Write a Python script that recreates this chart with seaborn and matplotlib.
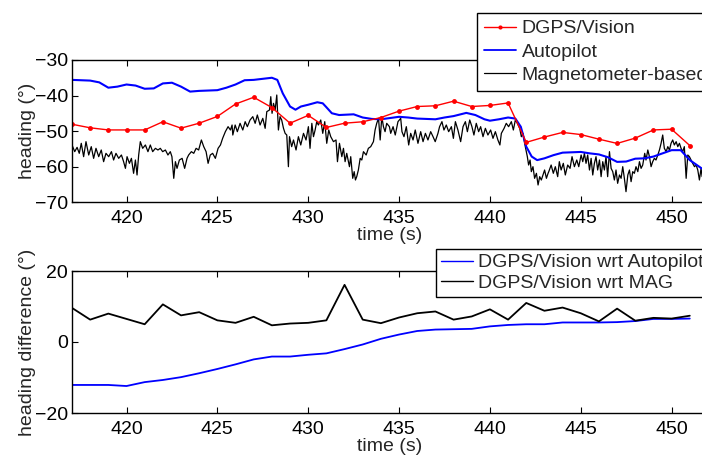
import numpy as np
import pandas as pd
import seaborn as sns
import matplotlib
matplotlib.use("Agg")
import matplotlib.pyplot as plt
from matplotlib.lines import Line2D

# ---------------- data ----------------
dgps_t = list(range(417, 452))
dgps_heading = [-48.1, -49.1, -49.7, -49.7, -49.7, -47.4, -49.2, -47.8, -45.9, -42.4,
                -40.5, -43.4, -47.8, -45.6, -49.0, -47.8, -47.4, -46.2, -44.4, -43.1,
                -42.9, -41.6, -43.1, -42.8, -42.1, -53.2, -51.7, -50.4, -51.0, -52.3,
                -53.5, -52.0, -49.7, -49.5, -54.1]

auto_t = [417, 418, 418.5, 419, 419.5, 420, 420.5, 421, 421.5, 422, 422.5, 423, 423.5, 424,
          425, 425.5, 426, 426.5, 427, 427.5, 428, 428.3, 428.6, 429, 429.3, 429.6, 430,
          430.5, 430.8, 431, 431.3, 431.7, 432.5, 433, 433.5, 434, 435, 435.5, 436, 437,
          437.5, 438, 438.7, 439.2, 439.7, 440, 440.5, 441, 441.4, 441.7, 442, 442.3,
          442.6, 443, 443.5, 444, 445, 445.5, 446, 446.5, 447, 447.5, 448, 448.5, 449,
          449.5, 450, 450.5, 451, 451.7]
auto_heading = [-35.6, -35.8, -36.3, -37.8, -37.5, -36.9, -37.2, -38.1, -38.0, -36.6, -36.4,
                -37.5, -38.9, -38.7, -38.5, -37.8, -36.9, -35.7, -35.6, -35.3, -35.0, -35.6,
                -39.4, -43.1, -44.0, -43.1, -42.6, -41.9, -42.2, -43.3, -45.0, -45.5, -45.3,
                -46.2, -46.6, -46.7, -46.0, -46.2, -46.5, -46.7, -46.2, -45.8, -44.9, -45.5,
                -46.7, -47.1, -46.7, -46.2, -46.5, -48.8, -54.4, -57.2, -58.2, -57.7, -56.8,
                -56.1, -55.9, -56.3, -56.6, -57.4, -58.7, -58.6, -57.8, -57.7, -57.2, -56.3,
                -55.4, -55.4, -58.2, -60.7]

mag_t_a = [417.00, 417.15, 417.28, 417.40, 417.51, 417.64, 417.77, 417.92, 418.06, 418.19,
           418.32, 418.47, 418.61, 418.74, 418.87, 419.02, 419.17, 419.29, 419.42, 419.57,
           419.72, 419.84, 419.94, 420.03, 420.16, 420.27, 420.39, 420.49, 420.58, 420.67,
           420.76, 420.89, 421.04, 421.18, 421.31, 421.44, 421.59, 421.73, 421.86, 421.99,
           422.14, 422.28, 422.41, 422.50, 422.60, 422.69, 422.78, 422.91, 423.06, 423.20,
           423.33, 423.42, 423.57, 423.70, 423.83, 423.97, 424.12, 424.25, 424.38, 424.49,
           424.61, 424.74, 424.89, 425.04, 425.17, 425.29, 425.44, 425.59, 425.72, 425.81]
mag_h_a = [-53.94, -55.82, -54.60, -56.29, -53.47, -57.23, -53.00, -56.76, -54.41, -57.70,
           -54.88, -57.23, -55.35, -58.64, -56.29, -57.23, -55.82, -58.17, -56.29, -57.70,
           -56.76, -58.64, -60.52, -57.23, -59.11, -57.70, -61.92, -58.17, -62.39, -56.76,
           -53.00, -54.88, -53.94, -55.82, -53.94, -55.82, -54.88, -55.35, -54.88, -55.82,
           -55.35, -56.76, -55.82, -57.23, -63.33, -58.64, -60.52, -58.17, -57.70, -60.52,
           -57.70, -56.76, -55.82, -56.29, -54.88, -55.35, -52.53, -54.41, -55.82, -59.11,
           -56.76, -56.29, -57.70, -54.88, -53.94, -52.07, -50.19, -48.78, -49.72, -48.31]

mag_t_b = [425.85, 425.98, 426.10, 426.25, 426.40, 426.53, 426.65, 426.80, 426.95, 427.08,
           427.20, 427.35, 427.50, 427.63, 427.72, 427.87, 427.94, 428.01, 428.09, 428.18,
           428.27, 428.36, 428.45, 428.54, 428.64, 428.73, 428.82, 428.91, 428.97, 429.09,
           429.19, 429.33, 429.46, 429.59, 429.74, 429.88, 430.01, 430.10, 430.20, 430.29,
           430.38, 430.47, 430.56, 430.69, 430.80, 430.91, 431.02, 431.13, 431.24, 431.39,
           431.53, 431.61, 431.72, 431.85, 431.94, 432.03, 432.12, 432.27, 432.34, 432.45,
           432.53, 432.60, 432.67, 432.76, 432.86, 432.95, 433.04, 433.19, 433.31, 433.44,
           433.59, 433.68, 433.77, 433.87, 433.96, 434.05, 434.14, 434.23, 434.32, 434.47]
mag_h_b = [-51.13, -48.31, -50.19, -47.84, -49.72, -47.37, -48.78, -46.90, -45.96, -47.84,
           -45.49, -48.31, -46.43, -49.25, -44.55, -44.08, -40.33, -45.02, -42.21, -44.08,
           -39.86, -49.72, -45.96, -46.90, -49.25, -50.66, -51.13, -60.05, -51.60, -54.41,
           -52.53, -55.35, -51.60, -53.94, -50.66, -52.53, -48.78, -54.88, -47.84, -51.60,
           -49.72, -47.37, -48.31, -46.90, -50.66, -47.37, -53.47, -49.72, -51.60, -53.00,
           -52.53, -58.64, -53.47, -57.23, -54.88, -58.64, -56.29, -60.05, -57.23, -63.33,
           -61.45, -63.80, -62.86, -60.99, -57.70, -58.17, -55.82, -56.76, -54.88, -54.41,
           -53.00, -49.72, -47.84, -46.43, -52.53, -45.96, -48.78, -50.19, -47.84, -48.78]

mag_t_c = [434.54, 434.67, 434.79, 434.94, 435.09, 435.16, 435.27, 435.40, 435.53, 435.64,
           435.77, 435.89, 436.04, 436.19, 436.32, 436.45, 436.59, 436.74, 436.87, 436.99,
           437.14, 437.23, 437.36, 437.47, 437.60, 437.73, 437.88, 437.99, 438.10, 438.24,
           438.39, 438.52, 438.65, 438.76, 438.89, 439.01, 439.12, 439.25, 439.38, 439.49,
           439.62, 439.75, 439.89, 440.04, 440.17, 440.30, 440.44, 440.55, 440.63, 440.78,
           440.90, 441.03, 441.18, 441.29, 441.40, 441.51, 441.64, 441.73, 441.82, 441.91,
           442.00, 442.06, 442.13, 442.21, 442.28, 442.37, 442.46, 442.56, 442.65, 442.74,
           442.83, 442.92, 443.01, 443.11, 443.20]
mag_h_c = [-50.66, -48.78, -51.13, -47.37, -46.43, -50.19, -51.60, -48.78, -53.94, -50.66,
           -52.53, -49.72, -53.47, -50.19, -53.00, -50.66, -52.53, -50.19, -51.60, -53.00,
           -50.66, -48.78, -47.37, -49.72, -48.31, -50.19, -48.78, -52.07, -47.37, -49.72,
           -53.00, -48.78, -47.37, -50.19, -46.90, -48.78, -51.13, -47.84, -50.19, -48.78,
           -51.60, -49.25, -51.13, -49.72, -52.07, -50.19, -52.53, -53.94, -50.66, -49.25,
           -47.84, -48.78, -47.37, -49.72, -46.90, -47.84, -49.25, -51.60, -50.66, -53.47,
           -55.82, -57.23, -59.58, -58.17, -61.45, -60.05, -63.33, -61.92, -65.21, -62.86,
           -63.80, -62.39, -60.99, -63.33, -61.92]

mag_t_d = [443.24, 443.37, 443.49, 443.60, 443.73, 443.82, 443.92, 444.04, 444.15, 444.28,
           444.41, 444.52, 444.65, 444.78, 444.89, 445.02, 445.11, 445.20, 445.29, 445.38,
           445.48, 445.57, 445.66, 445.75, 445.84, 445.93, 446.03, 446.12, 446.21, 446.30,
           446.39, 446.48, 446.58, 446.67, 446.76, 446.85, 446.94, 447.03, 447.13, 447.22,
           447.31, 447.40, 447.49, 447.59, 447.68, 447.77, 447.86, 447.95, 448.04, 448.14,
           448.23, 448.32, 448.41, 448.52, 448.59, 448.69, 448.78, 448.87, 448.96, 449.05,
           449.14, 449.24, 449.33, 449.42, 449.51, 449.60, 449.70, 449.79, 449.88, 449.97,
           450.06, 450.15, 450.25, 450.34, 450.43, 450.52, 450.61, 450.70, 450.80, 450.89,
           450.98, 451.07, 451.16, 451.26, 451.35, 451.44, 451.53, 451.62, 451.68]
mag_h_d = [-61.45, -59.58, -61.92, -60.05, -62.86, -58.64, -60.99, -59.11, -62.39, -59.58,
           -60.52, -57.23, -60.05, -58.17, -60.05, -56.76, -58.64, -56.29, -59.11, -56.76,
           -60.99, -57.70, -62.39, -59.11, -57.23, -60.99, -58.17, -62.86, -58.64, -60.99,
           -57.23, -62.86, -55.82, -60.52, -61.45, -63.80, -60.99, -64.74, -62.39, -63.33,
           -60.05, -63.33, -67.09, -62.39, -60.99, -64.27, -61.45, -61.92, -60.05, -61.45,
           -58.64, -60.52, -59.58, -56.29, -58.17, -55.35, -57.23, -60.05, -58.64, -57.70,
           -58.17, -56.76, -55.35, -53.47, -51.13, -54.88, -55.82, -54.41, -55.35, -53.47,
           -52.53, -53.94, -53.00, -54.41, -53.47, -54.88, -55.82, -54.41, -63.33, -56.76,
           -57.23, -58.17, -59.11, -60.05, -59.58, -60.99, -63.80, -60.52, -62.86]

diff_t = list(range(417, 452))
diff_auto = [-12.1, -12.1, -12.1, -12.4, -11.3, -10.7, -9.9, -8.8, -7.6, -6.3,
             -4.9, -4.1, -4.1, -3.6, -3.2, -2.0, -0.7, 0.9, 2.1, 3.1,
             3.5, 3.6, 3.7, 4.4, 4.8, 5.0, 5.0, 5.5, 5.5, 5.5,
             5.6, 5.9, 6.5, 6.5, 6.6]
diff_mag = [9.6, 6.3, 8.0, 6.5, 5.0, 10.6, 7.5, 8.4, 6.1, 5.4,
            7.1, 4.7, 5.2, 5.4, 6.1, 16.1, 6.3, 5.3, 6.9, 8.1,
            8.6, 6.3, 7.2, 9.2, 6.3, 11.0, 8.8, 9.7, 8.1, 5.8,
            9.4, 6.0, 6.8, 6.6, 7.4]

top_labels = ["DGPS/Vision", "Autopilot", "Magnetometer-based"]
bottom_labels = ["DGPS/Vision wrt Autopilot", "DGPS/Vision wrt MAG"]

mag_t = mag_t_a + mag_t_b + mag_t_c + mag_t_d
mag_h = mag_h_a + mag_h_b + mag_h_c + mag_h_d

df_dgps = pd.DataFrame({"t": dgps_t, "h": dgps_heading})
df_auto = pd.DataFrame({"t": auto_t, "h": auto_heading})
df_mag = pd.DataFrame({"t": mag_t, "h": mag_h})
df_diff = pd.DataFrame({"t": diff_t, "auto": diff_auto, "mag": diff_mag})

# ---------------- style ----------------
FS = 14
sns.set_style("ticks")
plt.rcParams["font.family"] = ["Liberation Sans", "DejaVu Sans"]
plt.rcParams["font.size"] = FS
plt.rcParams["xtick.direction"] = "in"
plt.rcParams["ytick.direction"] = "in"
plt.rcParams["xtick.major.size"] = 4
plt.rcParams["ytick.major.size"] = 4
plt.rcParams["axes.linewidth"] = 1.0
plt.rcParams["axes.edgecolor"] = "black"
plt.rcParams["xtick.color"] = "black"
plt.rcParams["ytick.color"] = "black"

W, H = 702, 457
fig = plt.figure(figsize=(W / 100, H / 100), dpi=100)
left = 72 / W
width = (708 - 72) / W
ax1 = fig.add_axes([left, (H - 202) / H, width, 142 / H])
ax2 = fig.add_axes([left, (H - 413) / H, width, 142 / H])

xlim = (417, 417 + (708 - 72) / 18.17)

# top panel
sns.lineplot(data=df_mag, x="t", y="h", ax=ax1, color="black", lw=0.9, sort=False,
             estimator=None, legend=False)
sns.lineplot(data=df_auto, x="t", y="h", ax=ax1, color="#0000ff", lw=1.5, sort=False,
             estimator=None, legend=False)
sns.lineplot(data=df_dgps, x="t", y="h", ax=ax1, color="#ff0000", lw=1.0, marker="o",
             markersize=3.5, markeredgewidth=0, sort=False, estimator=None, legend=False)
ax1.set_xlim(*xlim)
ax1.set_ylim(-70, -30)
ax1.set_yticks([-70, -60, -50, -40, -30])
ax1.set_xticks([420, 425, 430, 435, 440, 445, 450])
ax1.set_xlabel("time (s)", labelpad=0)
ax1.set_ylabel("heading (°)", labelpad=-1)

# bottom panel
sns.lineplot(data=df_diff, x="t", y="auto", ax=ax2, color="#0000ff", lw=1.3,
             estimator=None, legend=False)
sns.lineplot(data=df_diff, x="t", y="mag", ax=ax2, color="black", lw=1.3,
             estimator=None, legend=False)
ax2.set_xlim(*xlim)
ax2.set_ylim(-20, 20)
ax2.set_yticks([-20, 0, 20])
ax2.set_xticks([420, 425, 430, 435, 440, 445, 450])
ax2.set_xlabel("time (s)", labelpad=0)
ax2.set_ylabel("heading difference (°)", labelpad=-1)

for ax in (ax1, ax2):
    ax.tick_params(top=True, right=True, labelsize=FS)
    ax.tick_params(axis="x", pad=6)
    ax.tick_params(axis="y", pad=3)
    for s in ax.spines.values():
        s.set_visible(True)

h_top = [Line2D([], [], color="#ff0000", lw=1.0, marker="o", markersize=3, markeredgewidth=0),
         Line2D([], [], color="#0000ff", lw=1.3),
         Line2D([], [], color="black", lw=0.9)]
leg1 = fig.legend(h_top, top_labels, loc="upper left", bbox_to_anchor=(477 / W, 1 - 13 / H),
                  frameon=True, fancybox=False, framealpha=1, edgecolor="black",
                  fontsize=FS, handlelength=1.65, handletextpad=0.3, labelspacing=0.3,
                  borderpad=0.35, borderaxespad=0)
leg1.get_frame().set_linewidth(1.0)

h_bot = [Line2D([], [], color="#0000ff", lw=1.0),
         Line2D([], [], color="black", lw=1.0)]
leg2 = fig.legend(h_bot, bottom_labels, loc="upper left", bbox_to_anchor=(436 / W, 1 - 249 / H),
                  frameon=True, fancybox=False, framealpha=1, edgecolor="black",
                  fontsize=FS, handlelength=1.65, handletextpad=0.25, labelspacing=0.15,
                  borderpad=0.25, borderaxespad=0)
leg2.get_frame().set_linewidth(1.0)

fig.savefig("out.png", dpi=100)
